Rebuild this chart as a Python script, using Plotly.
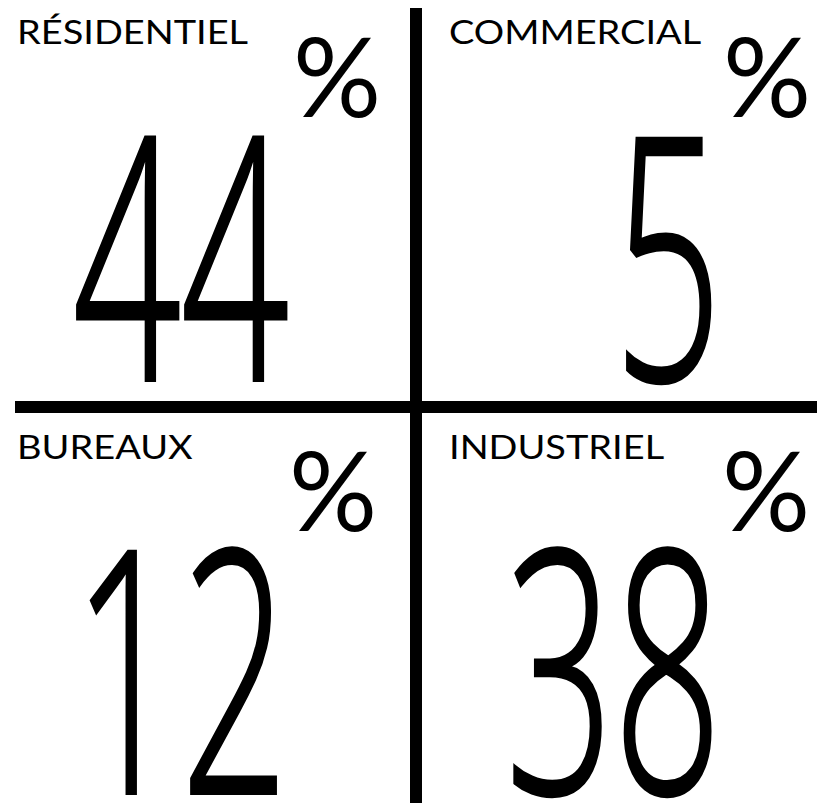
import json
import plotly.graph_objects as go

# ---- data ----
categories = ["RÉSIDENTIEL", "COMMERCIAL", "BUREAUX", "INDUSTRIEL"]
values = [44, 5, 12, 38]
unit = "%"

# ---- layout (pixel space of the 817x803 canvas) ----
W, H = 817, 803
col_left = [15, 447]          # label left edge per column
num_right = [291, 724]        # right edge of big number per column
pct_center = [[337, 767], [333, 766]]
row_label_y = [31, 446]
row_pct_y = [74, 488]
row_num_y = [249, 662]

FONT = "Lato, 'Open Sans', sans-serif"
NUM_FONT = "'Open Sans', Lato, sans-serif"
LABEL_SIZE = 33
PCT_SIZE = 110
NUM_SIZE = 338
NUM_SCALE = 0.56
LABEL_SCALE = 1.15

fig = go.Figure()
annotations = []
transforms = []  # (annotation index, x-scale, anchor side, stroke width)

for i, (cat, val) in enumerate(zip(categories, values)):
    r, c = divmod(i, 2)
    annotations.append(dict(x=col_left[c], y=row_label_y[r], text=cat, xanchor="left",
                            yanchor="middle", showarrow=False,
                            font=dict(family=FONT, size=LABEL_SIZE, color="black")))
    transforms.append((len(annotations) - 1, LABEL_SCALE, "left", 0))
    annotations.append(dict(x=pct_center[r][c], y=row_pct_y[r], text=unit, xanchor="center",
                            yanchor="middle", showarrow=False,
                            font=dict(family=FONT, size=PCT_SIZE, color="black", weight=400)))
    annotations.append(dict(x=num_right[c], y=row_num_y[r], text=str(val), xanchor="right",
                            yanchor="middle", showarrow=False,
                            font=dict(family=NUM_FONT, size=NUM_SIZE, color="black", weight=300)))
    transforms.append((len(annotations) - 1, NUM_SCALE, "right", 4))

shapes = [
    dict(type="line", x0=416, x1=416, y0=8, y1=H, xref="x", yref="y",
         line=dict(color="black", width=12)),
    dict(type="line", x0=15, x1=W, y0=407, y1=407, xref="x", yref="y",
         line=dict(color="black", width=12)),
]

fig.update_layout(
    width=W, height=H,
    margin=dict(l=0, r=0, t=0, b=0),
    paper_bgcolor="white", plot_bgcolor="white",
    xaxis=dict(range=[0, W], visible=False, fixedrange=True),
    yaxis=dict(range=[H, 0], visible=False, fixedrange=True),
    annotations=annotations,
    shapes=shapes,
    showlegend=False,
)

post = """
document.body.style.margin = '0';
document.body.style.overflow = 'hidden';
var gd = document.getElementById('{plot_id}');
var tf = %s;
tf.forEach(function(t){
  var g = gd.querySelector('g.annotation[data-index="' + t[0] + '"]');
  if(!g) return;
  var el = g.querySelector('text.annotation-text');
  if(!el) return;
  var b = el.getBBox();
  var ax = t[2] === 'left' ? b.x : b.x + b.width;
  var prev = el.getAttribute('transform') || '';
  el.setAttribute('transform', prev + ' translate(' + ax + ',0) scale(' + t[1] + ',1) translate(' + (-ax) + ',0)');
  if(t[3] > 0){
    el.style.stroke = 'black';
    el.style.strokeWidth = t[3] + 'px';
    el.style.strokeLinejoin = 'miter';
  }
});
""" % json.dumps(transforms)

fig.write_html("out.html", post_script=post, config={"displayModeBar": False})
